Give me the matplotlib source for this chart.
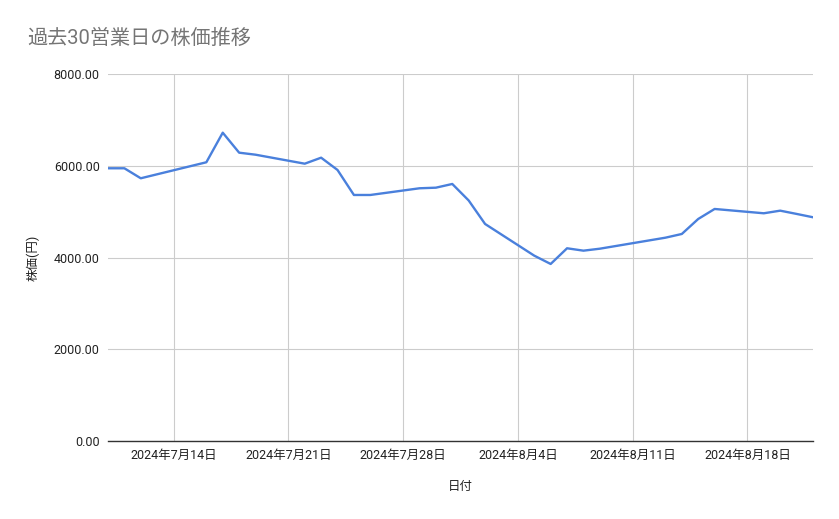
import pandas as pd
import matplotlib
matplotlib.use("Agg")
import matplotlib.pyplot as plt
from matplotlib.ticker import FuncFormatter

plt.rcParams['font.family'] = ['Roboto', 'Noto Sans CJK JP', 'DejaVu Sans']

# 過去30営業日 (7/15, 8/12 は祝日)
dates = ["2024-07-10", "2024-07-11", "2024-07-12", "2024-07-16", "2024-07-17",
         "2024-07-18", "2024-07-19", "2024-07-22", "2024-07-23", "2024-07-24",
         "2024-07-25", "2024-07-26", "2024-07-29", "2024-07-30", "2024-07-31",
         "2024-08-01", "2024-08-02", "2024-08-05", "2024-08-06", "2024-08-07",
         "2024-08-08", "2024-08-09", "2024-08-13", "2024-08-14", "2024-08-15",
         "2024-08-16", "2024-08-19", "2024-08-20", "2024-08-21", "2024-08-22"]
prices = [5945, 5945, 5727, 6076, 6721,
          6285, 6241, 6045, 6176, 5908,
          5363, 5363, 5509, 5522, 5603,
          5243, 4731, 4040, 3859, 4201,
          4149, 4192, 4432, 4513, 4840,
          5058, 4964, 5021, 4950, 4877]
tick_dates = ["2024-07-14", "2024-07-21", "2024-07-28", "2024-08-04", "2024-08-11", "2024-08-18"]
tick_labels = ["2024年7月14日", "2024年7月21日", "2024年7月28日", "2024年8月4日", "2024年8月11日", "2024年8月18日"]
yticks = [0, 2000, 4000, 6000, 8000]

x = pd.to_datetime(dates)

fig = plt.figure(figsize=(8.39, 5.19), dpi=100)
ax = fig.add_axes([0.1287, 0.1503, 0.8403, 0.7071])

ax.plot(x, prices, color='#4a80dc', linewidth=1.7, zorder=3)

ax.set_xlim(x[0], x[-1])
ax.set_ylim(0, 8000)
ax.set_yticks(yticks)
ax.yaxis.set_major_formatter(FuncFormatter(lambda v, p: f"{v:.2f}"))
ax.set_xticks(pd.to_datetime(tick_dates))
ax.set_xticklabels(tick_labels)

ax.grid(True, color='#cccccc', linewidth=0.8)
ax.set_axisbelow(True)
for s in ['top', 'right', 'left']:
    ax.spines[s].set_visible(False)
ax.spines['bottom'].set_color('#333333')
ax.spines['bottom'].set_linewidth(1.0)
ax.tick_params(axis='both', length=0, labelsize=9, colors='#222222')
ax.tick_params(axis='y', pad=6)
ax.tick_params(axis='x', pad=6)

ax.set_xlabel("日付", fontsize=9, color='#222222', labelpad=13)
ax.set_ylabel("株価(円)", fontsize=9, color='#222222', labelpad=10)

fig.text(0.032, 0.926, "過去30営業日の株価推移", fontsize=14.5, color='#757575',
         ha='left', va='center')

fig.savefig("out.png", dpi=100)
